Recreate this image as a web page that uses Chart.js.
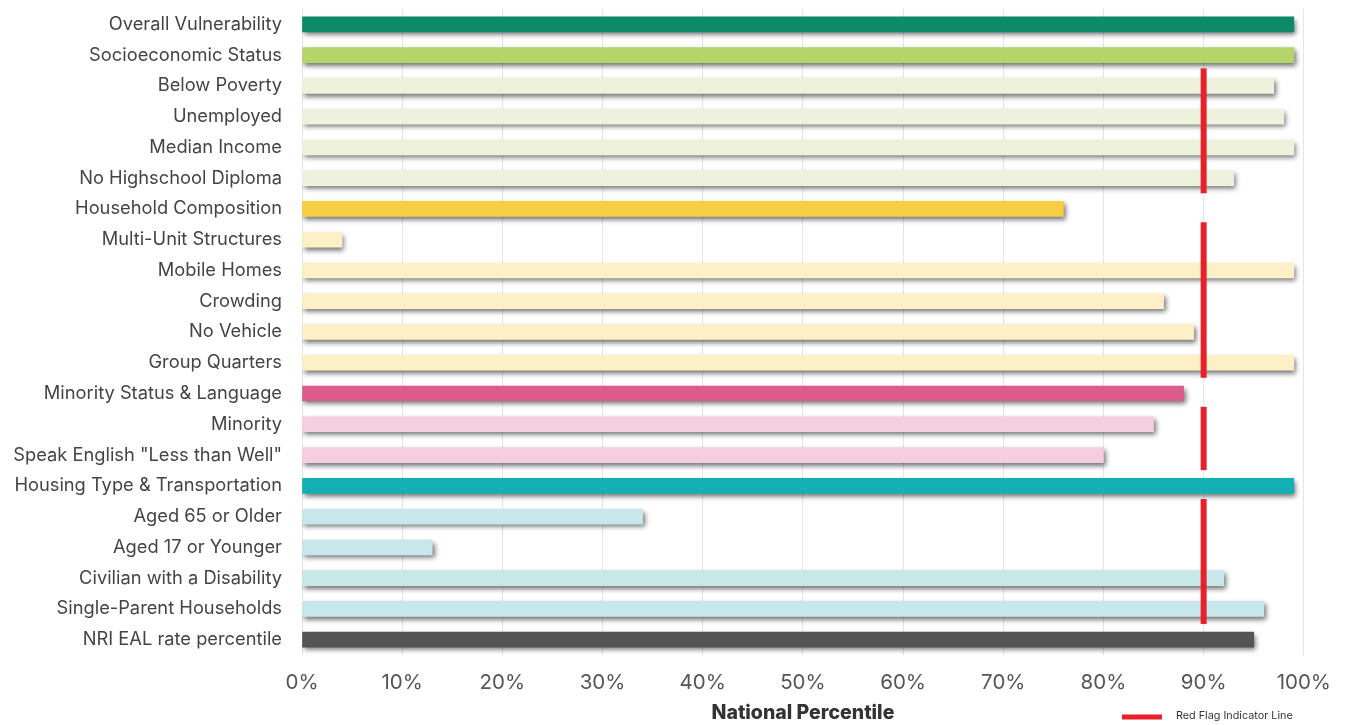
<html>
<head>
<meta http-equiv="Content-Type" content="text/html; charset=UTF-8">
<title>National Percentile</title>
<script src="https://cdn.jsdelivr.net/npm/chart.js@4.4.1/dist/chart.umd.min.js"></script>
<style>
  body { margin: 0; background: #fff; }
</style>
</head>
<body>
<div style="width:1347px;height:725px">
    <canvas id="chart1"></canvas>
</div>

<script>
var labels = [
    "Overall Vulnerability",
    "Socioeconomic Status",
    "Below Poverty",
    "Unemployed",
    "Median Income",
    "No Highschool Diploma",
    "Household Composition",
    "Multi-Unit Structures",
    "Mobile Homes",
    "Crowding",
    "No Vehicle",
    "Group Quarters",
    "Minority Status & Language",
    "Minority",
    "Speak English \"Less than Well\"",
    "Housing Type & Transportation",
    "Aged 65 or Older",
    "Aged 17 or Younger",
    "Civilian with a Disability",
    "Single-Parent Households",
    "NRI EAL rate percentile"
];
var values = [99, 99, 97, 98, 99, 93, 76, 4, 99, 86, 89, 99, 88, 85, 80, 99, 34, 13, 92, 96, 95];
var barColors = [
    "#0d8a66", "#b6d46c", "#eef2dd", "#eef2dd", "#eef2dd", "#eef2dd",
    "#f8ce47", "#fdf0c6", "#fdf0c6", "#fdf0c6", "#fdf0c6", "#fdf0c6",
    "#dc5b8d", "#f5cfde", "#f5cfde",
    "#12b0b4", "#c7e7eb", "#c7e7eb", "#c7e7eb", "#c7e7eb",
    "#555555"
];
var ticks = [0, 10, 20, 30, 40, 50, 60, 70, 80, 90, 100];
var flagValue = 90;
// first and last row of each red flag segment
var flagGroups = [[2, 5], [7, 11], [13, 14], [16, 19]];
var legendText = "Red Flag Indicator Line";
var axisTitle = "National Percentile";

var barShadow = {
    id: 'barShadow',
    beforeDatasetDraw: function (chart) {
        var c = chart.ctx;
        c.save();
        c.shadowColor = "rgba(0,0,0,0.55)";
        c.shadowBlur = 5;
        c.shadowOffsetX = 2;
        c.shadowOffsetY = 3;
    },
    afterDatasetDraw: function (chart) {
        chart.ctx.restore();
    }
};

var redFlags = {
    id: 'redFlags',
    afterDatasetsDraw: function (chart) {
        var c = chart.ctx;
        var xs = chart.scales.x, ys = chart.scales.y;
        var band = ys.getPixelForValue(1) - ys.getPixelForValue(0);
        var x = xs.getPixelForValue(flagValue);
        c.save();
        c.strokeStyle = "#e8202a";
        c.lineWidth = 6;
        flagGroups.forEach(function (g) {
            c.beginPath();
            c.moveTo(x, ys.getPixelForValue(g[0]) - band * 0.57);
            c.lineTo(x, ys.getPixelForValue(g[1]) + band * 0.49);
            c.stroke();
        });
        // legend
        var ly = chart.height - 8;
        c.lineWidth = 5;
        c.beginPath();
        c.moveTo(1122, ly);
        c.lineTo(1162, ly);
        c.stroke();
        c.fillStyle = "#333";
        c.font = "10.8px Inter";
        c.textBaseline = "middle";
        c.fillText(legendText, 1176, ly - 1);
        c.restore();
    }
};

var ctx1 = document.getElementById("chart1");
var myChart = new Chart(ctx1, {
    type: 'bar',
    data: {
        labels: labels,
        datasets: [{
            data: values,
            backgroundColor: barColors,
            barThickness: 15,
            borderWidth: 0
        }]
    },
    options: {
        indexAxis: 'y',
        responsive: true,
        maintainAspectRatio: false,
        animation: false,
        layout: { padding: { top: 9, right: 43, left: 12, bottom: 0 } },
        plugins: {
            legend: { display: false },
            tooltip: { enabled: false }
        },
        scales: {
            x: {
                min: 0,
                max: 100,
                afterBuildTicks: function (axis) {
                    axis.ticks = ticks.map(function (v) { return { value: v }; });
                },
                afterFit: function (axis) {
                    axis.height = 70;
                },
                grid: { color: "#e4e4e4", drawTicks: false },
                border: { display: false },
                ticks: {
                    padding: 16,
                    color: "#555",
                    font: { family: "Inter", size: 20.5 },
                    callback: function (v) { return v + "%"; }
                },
                title: {
                    display: true,
                    text: axisTitle,
                    color: "#333",
                    font: { family: "Inter", size: 19.5, weight: "800" },
                    padding: { top: 2, bottom: 0 }
                }
            },
            y: {
                afterFit: function (axis) {
                    axis.width = 290;
                    axis.paddingTop = 0;
                    axis.paddingBottom = 0;
                },
                grid: { display: false, drawTicks: false },
                border: { display: false },
                ticks: {
                    padding: 20,
                    color: "#444",
                    font: { family: "Inter", size: 18.3 }
                }
            }
        }
    },
    plugins: [barShadow, redFlags]
});
</script>
</body>
</html>
